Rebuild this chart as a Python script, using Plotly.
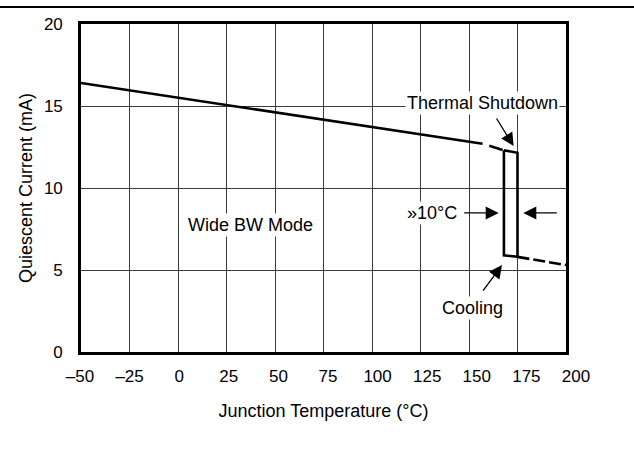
import plotly.graph_objects as go

# ---- data ----
heat_solid_x = [-50, 157]
heat_solid_y = [16.4, 12.7]
heat_dash_x = [157, 168]
heat_dash_y = [12.7, 12.3]
loop_x = [168, 175, 175, 168, 168]
loop_y = [12.3, 12.15, 5.8, 5.9, 12.3]
cool_dash_x = [175, 200]
cool_dash_y = [5.8, 5.3]

x_tickvals = [-50, -25, 0, 25, 50, 75, 100, 125, 150, 175, 200]
x_ticktext = ["–50", "–25", "0", "25", "50", "75", "100", "125", "150", "175", "200"]
y_tickvals = [0, 5, 10, 15, 20]

FONT = "Liberation Sans, Arial, Helvetica, sans-serif"
FS = 17
TS = 18
LW = 2.6

fig = go.Figure()
fig.add_trace(go.Scatter(x=heat_solid_x, y=heat_solid_y, mode="lines",
                         line=dict(color="black", width=LW), showlegend=False, hoverinfo="skip"))
fig.add_trace(go.Scatter(x=heat_dash_x, y=heat_dash_y, mode="lines",
                         line=dict(color="black", width=LW, dash="0px,7px,14px,20px"),
                         showlegend=False, hoverinfo="skip"))
fig.add_trace(go.Scatter(x=loop_x, y=loop_y, mode="lines",
                         line=dict(color="black", width=LW), showlegend=False, hoverinfo="skip"))
fig.add_trace(go.Scatter(x=cool_dash_x, y=cool_dash_y, mode="lines",
                         line=dict(color="black", width=LW, dash="12px,4px"),
                         showlegend=False, hoverinfo="skip"))
# empty trace to host the tick-label axis
fig.add_trace(go.Scatter(x=[], y=[], xaxis="x2", yaxis="y2", showlegend=False))

grid_color = "#3a3a3a"
fig.update_layout(
    width=634, height=470,
    margin=dict(l=80, r=58, t=24, b=118),
    paper_bgcolor="white", plot_bgcolor="rgba(0,0,0,0)",
    font=dict(family=FONT, size=FS, color="black"),
    xaxis=dict(domain=[1/496, 486/496], range=[-50, 200], tickvals=x_tickvals,
               showticklabels=False, ticks="", showgrid=True, gridcolor=grid_color, gridwidth=1,
               showline=True, linecolor="black", linewidth=2.6, mirror=True, zeroline=False,
               title=dict(text="Junction Temperature (°C)", font=dict(size=TS), standoff=51)),
    xaxis2=dict(domain=[0, 1], range=[-50, 200], anchor="y2", tickvals=x_tickvals,
                ticktext=x_ticktext, showgrid=False, showline=False, zeroline=False,
                ticks="", ticklabelstandoff=12),
    yaxis=dict(domain=[0, 1], range=[0, 20], tickvals=y_tickvals, ticks="",
               showgrid=True, gridcolor=grid_color, gridwidth=1, zeroline=False,
               showline=True, linecolor="black", linewidth=2.6, mirror=True,
               ticklabelstandoff=12,
               title=dict(text="Quiescent Current (mA)", font=dict(size=TS), standoff=7)),
    yaxis2=dict(domain=[0, 1], range=[0, 20], visible=False, showgrid=False),
)

ann_common = dict(xref="x", yref="y", font=dict(family=FONT, size=18, color="black"),
                  bgcolor="white", borderpad=1)
fig.add_annotation(x=37.5, y=7.74, text="Wide BW Mode", showarrow=False, **ann_common)
fig.add_annotation(x=157, y=15.2, text="Thermal Shutdown", showarrow=False, **ann_common)
fig.add_annotation(x=131, y=8.48, text="»10°C", showarrow=False, **ann_common)
fig.add_annotation(x=152, y=2.68, text="Cooling", showarrow=False, **ann_common)

arrow_common = dict(xref="x", yref="y", text="", showarrow=True, arrowhead=2,
                    arrowsize=2.0, arrowwidth=1.3, arrowcolor="black", standoff=0)
fig.add_annotation(x=173, y=12.56, ax=-18, ay=-29, **arrow_common)
fig.add_annotation(x=167, y=5.3, ax=-20, ay=27, **arrow_common)
fig.add_annotation(x=165.3, y=8.48, ax=-36, ay=0, **arrow_common)
fig.add_annotation(x=178, y=8.48, ax=35, ay=0, **arrow_common)

# page rule at the very top
fig.add_shape(type="line", xref="paper", yref="paper", x0=-80/496, x1=(634-80)/496,
              y0=(352-7)/328, y1=(352-7)/328, line=dict(color="black", width=2))

fig.write_html("out.html")
